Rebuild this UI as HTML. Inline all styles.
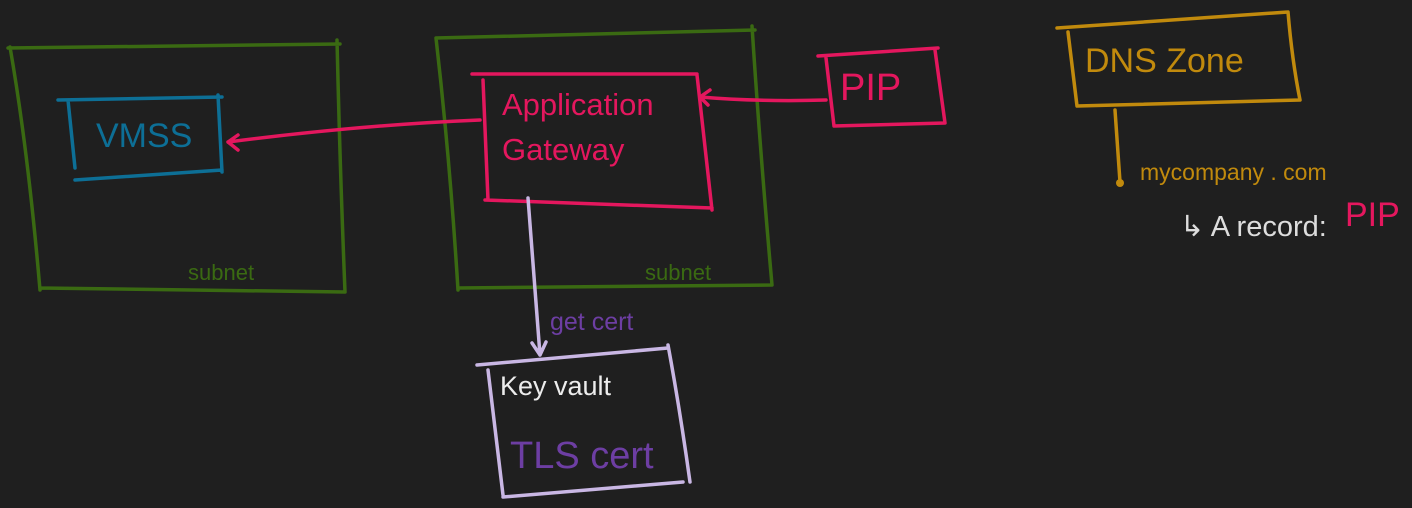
<!DOCTYPE html>
<html><head><style>
html,body{margin:0;padding:0;background:#1f1f1f;width:1412px;height:508px;overflow:hidden}
svg{display:block}
text{font-family:"Liberation Sans",sans-serif}
</style></head><body>
<svg width="1412" height="508" viewBox="0 0 1412 508" xmlns="http://www.w3.org/2000/svg">
<rect width="1412" height="508" fill="#1f1f1f"/>
<g fill="none" stroke-linecap="round" stroke-linejoin="round" stroke-width="3.5">
<path d="M8 48 L340 44 M10 47 Q28 150 40 290 M40 288 L345 292 M337 40 Q340 170 345 292" stroke="#3a6a12"/>
<path d="M436 38 L755 30 M436 38 Q450 160 458 290 M458 288 L772 285 M752 26 Q760 150 772 285" stroke="#3a6a12"/>
<path d="M58 100 L222 97 M68 100 L75 168 M75 180 L222 170 M218 95 L222 172" stroke="#0d6f96"/>
<path d="M472 74 L697 74 M483 80 L488 200 M485 200 L712 208 M697 75 L712 210" stroke="#e4175e"/>
<path d="M818 56 L938 48 M826 58 L834 126 M834 126 L945 123 M935 50 L945 123" stroke="#e4175e"/>
<path d="M826 100 Q760 102 700 97 M710 90 L700 97 L708 105" stroke="#e4175e"/>
<path d="M480 120 Q360 125 228 142 M238 135 L228 142 L238 150" stroke="#e4175e"/>
<path d="M528 198 Q534 280 540 355 M532 343 L540 355 L546 342" stroke="#c9b7e4"/>
<path d="M477 365 L668 348 M488 370 L503 495 M503 497 L683 482 M668 345 Q680 410 690 482" stroke="#c9b7e4"/>
<path d="M1057 28 L1288 12 M1068 32 L1077 106 M1077 106 L1300 100 M1288 12 Q1292 60 1300 100" stroke="#c18a0d"/>
<path d="M1115 110 L1120 182" stroke="#c18a0d"/>
</g>
<circle cx="1120" cy="183" r="4" fill="#c18a0d"/>
<text x="188" y="280" fill="#3a6a12" font-size="22">subnet</text>
<text x="645" y="280" fill="#3a6a12" font-size="22">subnet</text>
<text x="96" y="147" fill="#0d6f96" font-size="34">VMSS</text>
<text x="502" y="115" fill="#e4175e" font-size="31">Application</text>
<text x="502" y="160" fill="#e4175e" font-size="31">Gateway</text>
<text x="840" y="100" fill="#e4175e" font-size="38">PIP</text>
<text x="550" y="330" fill="#6d3ea3" font-size="25">get cert</text>
<text x="500" y="395" fill="#ececec" font-size="27">Key vault</text>
<text x="510" y="468" fill="#6d3ea3" font-size="38">TLS cert</text>
<text x="1085" y="72" fill="#c18a0d" font-size="34">DNS Zone</text>
<text x="1140" y="180" fill="#c18a0d" font-size="23">mycompany . com</text>
<text x="1180" y="236" fill="#dddddd" font-size="29">↳ A record:</text>
<text x="1345" y="226" fill="#e4175e" font-size="34">PIP</text>
</svg>
</body></html>
